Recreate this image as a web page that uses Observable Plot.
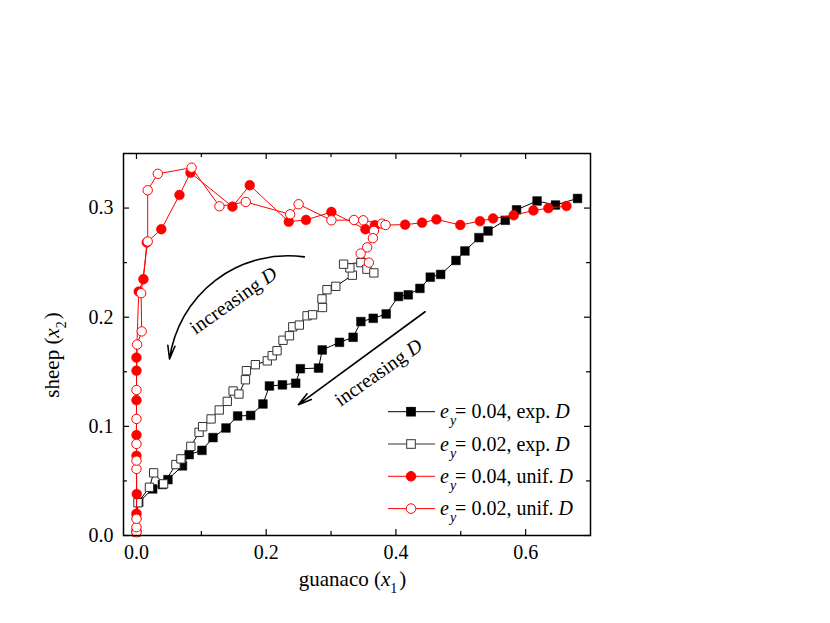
<!DOCTYPE html>
<html><head><meta charset="utf-8">
<script src="https://cdn.jsdelivr.net/npm/d3@7"></script>
<script src="https://cdn.jsdelivr.net/npm/@observablehq/plot@0.6"></script>
<style>body{margin:0;background:#fff} svg{display:block}</style>
</head><body><div id="chart"></div>
<script>
// ---- data ----
const expX04 = [0.0035,0.025,0.040,0.0485,0.0709,0.0812,0.101,0.118,0.138,0.156,0.176,0.195,0.205,0.225,0.2455,0.2527,0.2807,0.2864,0.313,0.334,0.346,0.365,0.385,0.404,0.419,0.437,0.453,0.469,0.4926,0.5064,0.528,0.542,0.5686,0.586,0.6176,0.646,0.680];
const expY04 = [0.0305,0.0427,0.0467,0.0512,0.0638,0.0741,0.078,0.0897,0.0985,0.1095,0.110,0.1205,0.137,0.138,0.1395,0.1528,0.1534,0.170,0.177,0.1816,0.196,0.199,0.203,0.219,0.2205,0.2264,0.2367,0.2392,0.252,0.2607,0.2729,0.279,0.2888,0.2984,0.3065,0.3028,0.3088];

const expX02 = [0.0,0.0,0.0023,0.020,0.0265,0.0418,0.0608,0.0685,0.0838,0.0965,0.102,0.115,0.1276,0.140,0.149,0.158,0.168,0.1695,0.1833,0.2017,0.2093,0.2167,0.2259,0.2358,0.241,0.2511,0.263,0.2715,0.2868,0.286,0.2937,0.3073,0.3328,0.329,0.3193,0.346,0.3553,0.366];
const expY02 = [0.0032,0.0183,0.030,0.0442,0.0574,0.0473,0.065,0.0702,0.0817,0.0945,0.0997,0.1068,0.115,0.1229,0.1324,0.1296,0.1427,0.151,0.1565,0.160,0.1647,0.1693,0.1789,0.183,0.1912,0.1928,0.2013,0.2022,0.2089,0.2168,0.2252,0.2283,0.2385,0.2452,0.2486,0.250,0.244,0.2406];

const unifX04 = [0.0,0.0,0.0005,0.0,0.0,0.0,0.0,0.0,0.0035,0.0107,0.016,0.0383,0.0663,0.0832,0.148,0.1746,0.2348,0.2614,0.3005,0.353,0.3675,0.4142,0.4403,0.4625,0.4992,0.5296,0.5498,0.5816,0.612,0.635,0.663];
const unifY04 = [0.004,0.02,0.038,0.073,0.092,0.124,0.151,0.163,0.2235,0.2348,0.2685,0.2806,0.312,0.3324,0.3013,0.3209,0.2875,0.2891,0.2964,0.2806,0.2843,0.2848,0.2866,0.2896,0.2845,0.288,0.2905,0.2934,0.2978,0.2999,0.3019];

const unifX02 = [0.0,0.0,0.0,0.0,0.0,0.0,0.0,0.0,0.001,0.008,0.0072,0.0173,0.0173,0.0329,0.085,0.1279,0.1685,0.2369,0.250,0.3005,0.3354,0.3496,0.3787,0.384,0.366,0.3645,0.3557,0.3456,0.3583];
const unifY02 = [0.003,0.0076,0.0153,0.061,0.0686,0.0839,0.1068,0.1333,0.175,0.187,0.222,0.2694,0.3163,0.3314,0.337,0.3016,0.3056,0.2943,0.3035,0.2888,0.2891,0.2888,0.2857,0.2845,0.279,0.2724,0.264,0.2583,0.25];

const xMajor = [0, 0.2, 0.4, 0.6];
const xMinor = [0.1, 0.3, 0.5];
const yMajor = [0, 0.1, 0.2, 0.3];
const yMinor = [0.05, 0.15, 0.25];
const xDomain = [-0.02, 0.7];
const yDomain = [0, 0.35];

const legendEy = ["0.04", "0.02", "0.04", "0.02"];
const legendDist = ["exp.", "exp.", "unif.", "unif."];

// annotations (data coordinates)
const arrowCurved = [{x1: 0.2588, y1: 0.2553, x2: 0.051, y2: 0.1617}];
const arrowStraight = [{x1: 0.445, y1: 0.205, x2: 0.2496, y2: 0.1199}];
const annotText = [{x: 0.150, y: 0.215}, {x: 0.3737, y: 0.149}];

// ---- build tables ----
const zip = (xs, ys) => xs.map((x, i) => ({x, y: ys[i]}));
const sExp04 = zip(expX04, expY04);
const sExp02 = zip(expX02, expY02);
const sUnif04 = zip(unifX04, unifY04);
const sUnif02 = zip(unifX02, unifY02);

const W = 830, H = 623, mL = 123, mR = 240, mT = 153, mB = 88;
const xPerPx = (xDomain[1] - xDomain[0]) / (W - mL - mR);
const yPerPx = (yDomain[1] - yDomain[0]) / (H - mT - mB);
const majL = 6, minL = 4;
const red = "#ff0000";
const openGray = "#333";

const tickMarks = [];
for (const [arr, len] of [[xMajor, majL], [xMinor, minL]]) {
  tickMarks.push(Plot.ruleX(arr, {x: d => d, y1: yDomain[0], y2: yDomain[0] + len * yPerPx, stroke: "black", strokeWidth: 1.2}));
  tickMarks.push(Plot.ruleX(arr, {x: d => d, y1: yDomain[1], y2: yDomain[1] - len * yPerPx, stroke: "black", strokeWidth: 1.2}));
}
for (const [arr, len] of [[yMajor, majL], [yMinor, minL]]) {
  tickMarks.push(Plot.ruleY(arr, {y: d => d, x1: xDomain[0], x2: xDomain[0] + len * xPerPx, stroke: "black", strokeWidth: 1.2}));
  tickMarks.push(Plot.ruleY(arr, {y: d => d, x1: xDomain[1], x2: xDomain[1] - len * xPerPx, stroke: "black", strokeWidth: 1.2}));
}

const plot = Plot.plot({
  width: W, height: H,
  marginLeft: mL, marginRight: mR, marginTop: mT, marginBottom: mB,
  x: {domain: xDomain},
  y: {domain: yDomain},
  style: {fontFamily: "'Liberation Serif', 'Times New Roman', serif", fontSize: "20px", color: "black", background: "white", overflow: "visible"},
  marks: [
    Plot.axisX({ticks: xMajor, tickSize: 0, tickPadding: 9, tickFormat: d3.format(".1f"), label: null, fontSize: 20}),
    Plot.axisY({ticks: yMajor, tickSize: 0, tickPadding: 10, tickFormat: d3.format(".1f"), label: null, fontSize: 20}),
    ...tickMarks,
    Plot.arrow(arrowCurved, {x1: "x1", y1: "y1", x2: "x2", y2: "y2", bend: -45, stroke: "black", strokeWidth: 1.6, headLength: 13, headAngle: 30}),
    Plot.arrow(arrowStraight, {x1: "x1", y1: "y1", x2: "x2", y2: "y2", stroke: "black", strokeWidth: 1.6, headLength: 13, headAngle: 30}),
    // e=0.04 exp D
    Plot.line(sExp04, {x: "x", y: "y", stroke: "black", strokeWidth: 1}),
    Plot.dot(sExp04, {x: "x", y: "y", symbol: "square", r: 4.9, fill: "black", stroke: "black", strokeWidth: 0.5}),
    // e=0.02 exp D
    Plot.line(sExp02, {x: "x", y: "y", stroke: "black", strokeWidth: 1}),
    Plot.dot(sExp02, {x: "x", y: "y", symbol: "square", r: 4.7, fill: "white", stroke: openGray, strokeWidth: 1}),
    // e=0.04 unif D
    Plot.line(sUnif04, {x: "x", y: "y", stroke: red, strokeWidth: 1}),
    Plot.dot(sUnif04, {x: "x", y: "y", r: 4.9, fill: red, stroke: red, strokeWidth: 0.5}),
    // e=0.02 unif D
    Plot.line(sUnif02, {x: "x", y: "y", stroke: red, strokeWidth: 1}),
    Plot.dot(sUnif02, {x: "x", y: "y", r: 4.7, fill: "white", stroke: red, strokeWidth: 1}),
    Plot.frame({stroke: "black", strokeWidth: 1.5})
  ]
});
document.getElementById("chart").appendChild(plot);

// ---- rich text (italics / subscripts) ----
const svg = d3.select(plot);
const xs = plot.scale("x"), ys = plot.scale("y");
const fx = xs.apply ? v => xs.apply(v) : d3.scaleLinear(xs.domain, xs.range);
const fy = ys.apply ? v => ys.apply(v) : d3.scaleLinear(ys.domain, ys.range);
const font = "'Liberation Serif', 'Times New Roman', serif";

function rich(parts, attrs) {
  const t = svg.append("text").attr("font-family", font).attr("fill", "black").attr("text-anchor", "start");
  for (const [k, v] of Object.entries(attrs)) t.attr(k, v);
  for (const p of parts) {
    const s = t.append("tspan").text(p.t);
    if (p.i) s.attr("font-style", "italic");
    if (p.s) s.attr("font-size", p.s);
    if (p.dy) s.attr("dy", p.dy);
    if (p.dx) s.attr("dx", p.dx);
  }
  return t;
}

// axis titles
const xr = xs.range, yr = ys.range;
rich([{t: "guanaco ("}, {t: "x", i: true}, {t: "1", s: 14, dy: 7}, {t: ")", dy: -7, dx: 2}],
  {"font-size": 21, "text-anchor": "middle", transform: `translate(${(xr[0] + xr[1]) / 2 - 4},586)`});
rich([{t: "sheep ("}, {t: "x", i: true}, {t: "2", s: 14, dy: 7}, {t: ")", dy: -7, dx: 2}],
  {"font-size": 21, "text-anchor": "middle", transform: `translate(59,${(yr[0] + yr[1]) / 2 + 11}) rotate(-90)`});

// annotation labels
for (const a of annotText) {
  rich([{t: "increasing "}, {t: "D", i: true}],
    {"font-size": 20, "text-anchor": "middle", dy: "0.33em", transform: `translate(${fx(a.x)},${fy(a.y)}) rotate(-35)`});
}

// legend
const legendStyle = [
  {shape: "square", fill: "black", stroke: "black", line: "black"},
  {shape: "square", fill: "white", stroke: openGray, line: "#333"},
  {shape: "circle", fill: red, stroke: red, line: red},
  {shape: "circle", fill: "white", stroke: red, line: red}
];
const lgX0 = 388, lgX1 = 435, lgM = 411, lgT = 440, lgY0 = 411.7, lgDy = 32.3;
legendEy.forEach((ey, i) => {
  const st = legendStyle[i];
  const cy = lgY0 + i * lgDy;
  svg.append("line").attr("x1", lgX0).attr("x2", lgX1).attr("y1", cy).attr("y2", cy)
    .attr("stroke", st.line).attr("stroke-width", 1);
  if (st.shape === "square") {
    svg.append("rect").attr("x", lgM - 4.3).attr("y", cy - 4.3).attr("width", 8.6).attr("height", 8.6)
      .attr("fill", st.fill).attr("stroke", st.stroke).attr("stroke-width", 1);
  } else {
    svg.append("circle").attr("cx", lgM).attr("cy", cy).attr("r", 4.8)
      .attr("fill", st.fill).attr("stroke", st.stroke).attr("stroke-width", 1);
  }
  rich([{t: "e", i: true}, {t: "y", i: true, s: 14, dy: 7, dx: 1}, {t: `= ${ey}, ${legendDist[i]} `, dy: -7, dx: -1}, {t: "D", i: true}],
    {"font-size": 20, x: lgT, y: cy + 6.5});
});
</script>
</body></html>
